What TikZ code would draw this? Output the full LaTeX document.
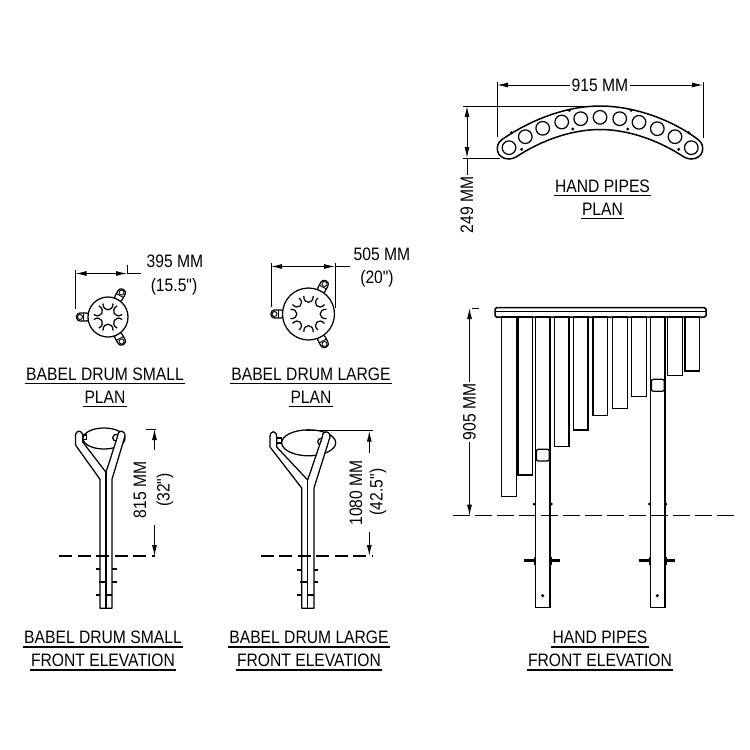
\documentclass[tikz,border=0pt]{standalone}
\usepackage{fontspec}
\setmainfont[FakeStretch=0.87, Ligatures=TeXOff]{Liberation Sans}
\usetikzlibrary{arrows.meta, positioning, calc}
\tikzset{
    titlelabel/.style={font=\fontsize{18}{18}\selectfont, text height=13pt, text depth=0pt,
        inner xsep=1pt, inner ysep=3.5pt},
    dimlabel/.style={font=\fontsize{18}{18}\selectfont, inner sep=2pt},
    titlerule/.style={line width=1.5pt},
    outline/.style={line width=1.25pt, black},
    thinline/.style={line width=0.9pt, black},
    dimline/.style={line width=1pt, black},
    dimarrow/.style={line width=1pt, {Latex[length=11pt,width=5pt]}-{Latex[length=11pt,width=5pt]}},
    dimtip/.style={line width=1pt, -{Latex[length=11pt,width=5pt]}},
    groundline/.style={line width=1.1pt, dash pattern=on 13pt off 5.5pt},
    boltline/.style={line width=1.8pt},
    drumear/.pic={
        \draw[outline, rounded corners=3.5pt] (#1-2,-4) rectangle (#1+11.5,4);
        \draw[thinline] (#1+4.5,-4) -- (#1+4.5,4);
        \draw[thinline] (#1+8,0) circle (2.5);
    },
}
\begin{document}
\begin{tikzpicture}[x=1pt, y=-1pt]
    \useasboundingbox (0,0) rectangle (750,750);

    % hand pipes plan
    \draw[outline, line width=1.5pt] (502,139.5) .. controls (535,117) and (570,106) .. (600,106)
        .. controls (630,106) and (668,117) .. (698,139.5)
        .. controls (706,145) and (704,159) .. (691,159)
        .. controls (688,159) and (686,158) .. (684,157)
        .. controls (655,138) and (625,129.5) .. (600,129.5)
        .. controls (575,129.5) and (545,138) .. (516,157)
        .. controls (514,158) and (512,159) .. (509,159)
        .. controls (496,159) and (494,145) .. (502,139.5) -- cycle;
    \foreach \px/\py in {509/147.7, 525.3/136.7, 542.7/128.3, 561.7/122, 580.7/118.7, 600/117.3,
            619.7/118.7, 639/122.3, 657.3/128.7, 675/136.7, 691.3/147.7}
        \draw[outline] (\px,\py) circle (6.8);
    \foreach \px/\py in {511.7/132.7, 521.7/149.3, 569.3/110.3, 572.7/129, 631/110.3, 627.7/129,
            688.7/132.7, 678.7/149.3}
        \fill (\px,\py) circle (1.7);

    \node[dimlabel] (lblplanwidth) at (600,85) {915 MM};
    \coordinate (planwidthl) at (497,85);
    \coordinate (planwidthr) at (703,85);
    \draw[dimtip] (lblplanwidth) -- (planwidthl);
    \draw[dimtip] (lblplanwidth) -- (planwidthr);
    \draw[dimline] (497,82) -- (497,137);
    \draw[dimline] (703,82) -- (703,138);
    \draw[dimline] (463,106) -- (600,106);
    \draw[dimline] (463,158) -- (500,158);
    \node[dimlabel, rotate=90] (lblplandepth) at (467,205) {249 MM};
    \coordinate (plandeptht) at (467,106);
    \coordinate (plandepthb) at (467,158);
    \draw[dimarrow] (plandeptht) -- (plandepthb);
    \draw[dimline] (plandepthb) -- (lblplandepth);

    \node[titlelabel] (lblpipesa) at (602.5,185.5) {HAND PIPES};
    \node[titlelabel] (lblpipesb) at (602.5,208.5) {PLAN};
    \draw[titlerule] (lblpipesa.south west) -- (lblpipesa.south east);
    \draw[titlerule] (lblpipesb.south west) -- (lblpipesb.south east);

    % babel drum small plan
    \foreach \ang in {180, 61, -61}
        \pic[rotate=\ang] at (108,317) {drumear=20};
    \draw[outline, fill=white] (108,317) circle (20);
    \foreach \ang in {30, 90, 150, 210, 270, 330}
        \draw[outline, shift={(108,317)}, rotate=\ang] (13.5,-5) .. controls (5,-5.3) and (5,5.3) .. (13.5,5);
    \coordinate (smalldiaml) at (75.5,273.5);
    \coordinate (smalldiamr) at (127,273.5);
    \draw[dimarrow] (smalldiaml) -- (smalldiamr);
    \draw[dimline] (smalldiamr) -- (141,273.5);
    \draw[dimline] (75.5,270) -- (75.5,309);
    \draw[dimline] (127,265) -- (127,273.5);
    \node[dimlabel] (lblsmalldiam) at (175,261) {395 MM};
    \node[dimlabel] (lblsmallinch) at (174,287) {(15.5")};

    % babel drum large plan
    \foreach \ang in {180, 62, -62}
        \pic[rotate=\ang] at (308.5,314) {drumear=26};
    \draw[outline, fill=white] (308.5,314) circle (26);
    \foreach \ang in {0, 45, ..., 315}
        \draw[outline, shift={(308.5,314)}, rotate=\ang] (18,-4.7) .. controls (9.5,-5) and (9.5,5) .. (18,4.7);
    \coordinate (largediaml) at (271,266.5);
    \coordinate (largediamr) at (335,266.5);
    \draw[dimarrow] (largediaml) -- (largediamr);
    \draw[dimline] (largediamr) -- (350,266.5);
    \draw[dimline] (271,263) -- (271,307);
    \draw[dimline] (335,263) -- (335,308);
    \node[dimlabel] (lbllargediam) at (382,254) {505 MM};
    \node[dimlabel] (lbllargeinch) at (377,279) {(20")};

    \node[titlelabel] (lblsmallplana) at (105,373.5) {BABEL DRUM SMALL};
    \node[titlelabel] (lblsmallplanb) at (105,396.5) {PLAN};
    \node[titlelabel] (lbllargeplana) at (311,373.5) {BABEL DRUM LARGE};
    \node[titlelabel] (lbllargeplanb) at (311,396.5) {PLAN};
    \foreach \lbl in {lblsmallplana, lblsmallplanb, lbllargeplana, lbllargeplanb}
        \draw[titlerule] (\lbl.south west) -- (\lbl.south east);

    % babel drum small elevation
    \draw[outline, fill=white] (104,438.5) ellipse (21 and 10.5);
    \draw[outline] (116,437.7) circle (3.3);
    \draw[outline] (82.7,435) rectangle (86.5,439.5);
    \draw[outline, fill=white, line join=round] (100,608.3) -- (100,479.3) -- (75.5,445) -- (75.5,436)
        .. controls (75.5,429.5) and (82.7,429.5) .. (82.7,436) -- (82.7,442) -- (106,472.3)
        -- (117.7,436) .. controls (117.7,429.5) and (125,429.5) .. (125,436)
        -- (112,479.3) -- (112,608.3) -- cycle;
    \draw[outline] (106,472.3) -- (106,608.3);
    \foreach \xa/\xb/\ya in {95.7/100/569, 112/116.7/569, 99/106/582, 112/116.7/582, 95.7/100/595, 106/112/595}
        \draw[boltline] (\xa,\ya) -- (\xb,\ya);
    \draw[groundline] (59,556) -- (155,556);
    \draw[dimline] (146,429) -- (156,429);
    \node[dimlabel, rotate=90] (lblsmallheight) at (140,490) {815 MM};
    \node[dimlabel, rotate=90] (lblsmallheightin) at (165,490) {(32")};
    \coordinate (smallheightt) at (154.5,429);
    \coordinate (smallheightb) at (154.5,556);
    \coordinate (smallgapt) at (154.5,450);
    \coordinate (smallgapb) at (154.5,525);
    \draw[dimtip] (smallgapt) -- (smallheightt);
    \draw[dimtip] (smallgapb) -- (smallheightb);

    % babel drum large elevation
    \draw[outline, fill=white] (308.7,442.8) ellipse (27 and 13);
    \draw[outline] (321,441.7) circle (3.3);
    \draw[outline] (276.7,438) rectangle (281.7,443);
    \draw[outline, fill=white, line join=round] (301.7,608.3) -- (301.7,488) -- (270,447) -- (270,437)
        .. controls (270,430) and (276.7,430) .. (276.7,437) -- (276.7,447) -- (307.7,480)
        -- (322.3,437) .. controls (322.3,430) and (330,430) .. (330,437)
        -- (314,488) -- (314,608.3) -- cycle;
    \draw[outline] (307.7,480) -- (307.7,608.3);
    \foreach \xa/\xb/\ya in {296.7/301.7/569.7, 314/318.3/569.7, 300/307.7/582.3, 314/317.7/582.3, 296.7/301.7/595, 307.7/314/595}
        \draw[boltline] (\xa,\ya) -- (\xb,\ya);
    \draw[groundline] (260.7,556) -- (373,556);
    \draw[dimline] (305,430.7) -- (373,430.7);
    \node[dimlabel, rotate=90] (lbllargeheight) at (356,493) {1080 MM};
    \node[dimlabel, rotate=90] (lbllargeheightin) at (378,492) {(42.5")};
    \coordinate (largeheightt) at (369.3,430.7);
    \coordinate (largeheightb) at (369.3,556);
    \coordinate (largegapt) at (369.3,453);
    \coordinate (largegapb) at (369.3,532);
    \draw[dimtip] (largegapt) -- (largeheightt);
    \draw[dimtip] (largegapb) -- (largeheightb);

    \node[titlelabel] (lblsmallfronta) at (103,637) {BABEL DRUM SMALL};
    \node[titlelabel] (lblsmallfrontb) at (103,660) {FRONT ELEVATION};
    \node[titlelabel] (lbllargefronta) at (309,637) {BABEL DRUM LARGE};
    \node[titlelabel] (lbllargefrontb) at (309,660) {FRONT ELEVATION};
    \node[titlelabel] (lblpipesfronta) at (600,637) {HAND PIPES};
    \node[titlelabel] (lblpipesfrontb) at (600,660) {FRONT ELEVATION};
    \foreach \lbl in {lblsmallfronta, lblsmallfrontb, lbllargefronta, lbllargefrontb, lblpipesfronta, lblpipesfrontb}
        \draw[titlerule] (\lbl.south west) -- (\lbl.south east);

    % hand pipes elevation
    \foreach \xa/\xb/\yb in {501.3/516.3/496.7, 518/532.3/475, 554.3/569/446.7, 573.3/588/430,
            593/607.7/415.3, 612.7/627.3/408.7, 631.7/646.3/396.3, 667.7/682.3/375.3, 685/699.3/371}
        \draw[outline] (\xa,317) rectangle (\xb,\yb);
    \foreach \xa/\xb/\ya/\yb in {535.7/550/449.3/461, 650.7/665/379.3/391.3} {
        \draw[outline] (\xa,317) rectangle (\xb,607.3);
        \draw[outline, fill=white, rounded corners=2pt] (\xa+0.7,\ya) rectangle (\xb-0.7,\yb);
    }
    \draw[outline, rounded corners=1.5pt, line width=1.5pt] (495,307.7) rectangle (706,317);
    \draw[outline] (495,311.3) -- (706,311.3);
    \draw[groundline, dash pattern=on 17pt off 5pt] (453,515.7) -- (735,515.7);
    \foreach \px/\py in {534/504, 551.3/504, 649.3/504, 666/504}
        \fill (\px,\py) circle (1.5);
    \foreach \px in {542.7, 657.3}
        \fill (\px,595.7) circle (1.7);
    \foreach \xa/\xb in {524/534, 551.5/559.5, 638.5/649, 666.5/674.5}
        \draw[line width=2.8pt] (\xa,560.7) -- (\xb,560.7);
    \foreach \px in {534.7, 551, 649.7, 666}
        \draw[line width=1.4pt] (\px,557) -- (\px,564.5);
    \draw[dimline] (472,308) -- (479,308);
    \node[dimlabel, rotate=90] (lblpipesheight) at (469.5,412) {905 MM};
    \coordinate (pipesheightt) at (469.5,308);
    \coordinate (pipesheightb) at (469.5,515.7);
    \draw[dimtip] (lblpipesheight) -- (pipesheightt);
    \draw[dimtip] (lblpipesheight) -- (pipesheightb);
\end{tikzpicture}
\end{document}
